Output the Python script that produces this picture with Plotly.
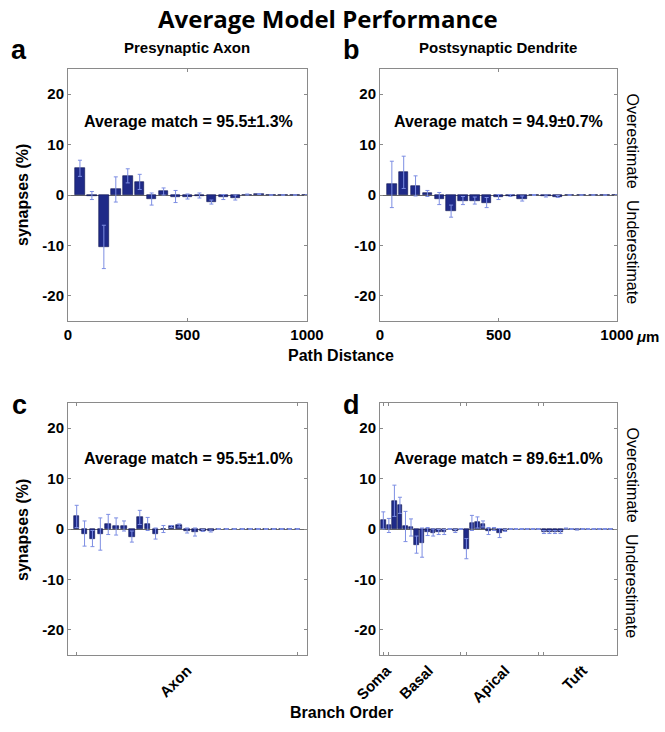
import plotly.graph_objects as go

# ---------------- data ----------------
path_bins = [50, 100, 150, 200, 250, 300, 350, 400, 450, 500,
             550, 600, 650, 700, 750, 800, 850, 900, 950, 1000]
axon_path = [5.3, -0.1, -10.3, 1.1, 3.8, 2.6, -0.8, 0.7, -0.3, -0.3,
             -0.1, -1.4, -0.4, -0.5, 0.1, 0.2, 0.0, 0.0, 0.0, 0.0]
axon_path_err = [1.6, 0.8, 4.3, 2.5, 1.4, 1.5, 1.2, 0.7, 1.2, 0.5,
                 0.5, 0.4, 0.5, 0.5, 0.1, 0.1, 0.05, 0.05, 0.05, 0.05]
dend_path = [2.1, 4.5, 1.8, 0.3, -0.7, -3.2, -1.1, -1.1, -1.5, -0.4,
             -0.1, -0.7, 0.0, -0.2, -0.3, 0.0, 0.0, 0.0, 0.0, 0.0]
dend_path_err = [4.6, 3.2, 2.0, 0.6, 1.2, 1.2, 0.8, 0.7, 1.0, 0.5,
                 0.2, 0.5, 0.1, 0.2, 0.2, 0.05, 0.05, 0.05, 0.05, 0.05]

axon_order_idx = list(range(1, 30))
axon_order = [2.5, -0.9, -1.9, -1.0, 0.9, 0.5, 0.6, -1.5, 2.3, 1.0,
              -0.9, 0.0, 0.5, 0.7, -0.3, -0.6, -0.3, -0.4, 0.0, 0.0,
              0.0, 0.0, 0.0, 0.0, 0.0, 0.0, 0.0, 0.0, 0.0]
axon_order_err = [2.2, 2.5, 1.6, 3.2, 2.0, 1.7, 1.0, 1.1, 1.4, 1.3,
                  1.1, 0.7, 0.2, 0.3, 0.5, 0.8, 0.2, 0.2, 0.1, 0.1,
                  0.1, 0.1, 0.1, 0.1, 0.1, 0.1, 0.1, 0.1, 0.1]

dend_order_idx = list(range(1, 43))
dend_order = [1.7, 0.7, 5.6, 4.7, 0.5, 0.3, -3.1, -2.7, -0.5, -0.7,
              -0.6, -0.6, 0.0, -0.4, 0.0, -3.9, 1.2, 1.3, 1.0, -0.4,
              0.0, -0.8, -0.3, 0.0, 0.0, 0.0, 0.0, 0.0, 0.0, -0.6,
              -0.6, -0.6, -0.6, 0.1, 0.0, -0.1, 0.0, 0.0, 0.0, 0.0,
              0.0, 0.0]
dend_order_err = [1.7, 1.4, 3.1, 1.6, 3.0, 1.7, 1.7, 2.9, 0.8, 0.7,
                  0.5, 0.5, 0.1, 0.3, 0.1, 2.0, 1.5, 1.1, 0.6, 0.7,
                  0.3, 0.9, 0.2, 0.1, 0.1, 0.1, 0.1, 0.1, 0.1, 0.3,
                  0.3, 0.3, 0.3, 0.1, 0.1, 0.1, 0.1, 0.1, 0.1, 0.1,
                  0.1, 0.1]

matches = ["Average match = 95.5±1.3%", "Average match = 94.9±0.7%",
           "Average match = 95.5±1.0%", "Average match = 89.6±1.0%"]
panel_titles = ["Presynaptic Axon", "Postsynaptic Dendrite"]
panel_letters = ["a", "b", "c", "d"]
path_ticks = [0, 500, 1000]
path_tick_text = ["0", "500", "1000"]
y_ticks = [-20, -10, 0, 10, 20]
y_tick_text = ["-20", "-10", "0", "10", "20"]
axon_labels = ["Axon"]
axon_label_pos = [15]
axon_tick_marks = [1, 29]
dend_labels = ["Soma", "Basal", "Apical", "Tuft"]
dend_label_pos = [1.6, 9.2, 23.0, 37.0]
dend_tick_marks = [1, 2, 15, 16, 29, 30]

# ---------------- styling ----------------
W, H = 665, 732
BAR = "#1f2a88"
BAR_LINE = "#0d1450"
ERR = "#7d8ee3"
FRAME = "#8a8a8a"
FONT = "Liberation Sans, Arial, sans-serif"
TICKFONT = dict(family=FONT, size=15, color="black", weight="bold")


def px_x(p):
    return p / W


def px_y(p):
    return 1 - p / H


fig = go.Figure()

panels = [
    (path_bins, axon_path, axon_path_err, 40, "x", "y"),
    (path_bins, dend_path, dend_path_err, 40, "x2", "y2"),
    (axon_order_idx, axon_order, axon_order_err, 0.7, "x3", "y3"),
    (dend_order_idx, dend_order, dend_order_err, 0.8, "x4", "y4"),
]
for xs, ys, es, w, xa, ya in panels:
    fig.add_trace(go.Bar(
        x=xs, y=ys, width=w, xaxis=xa, yaxis=ya,
        marker=dict(color=BAR, line=dict(color=BAR_LINE, width=0.6)),
        error_y=dict(type="data", array=es, color=ERR, thickness=1, width=2),
        showlegend=False,
    ))

xdom = [(68, 307), (380, 617)]
ydom = [(69, 321), (403, 655)]

common_y = dict(range=[-25, 25], tickvals=y_ticks, ticktext=y_tick_text,
                ticks="inside", ticklen=3, automargin=False,
                tickcolor=FRAME, showline=True, linecolor=FRAME, linewidth=1,
                mirror="ticks", showgrid=False, zeroline=True,
                zerolinecolor="#6a6a6a", zerolinewidth=1,
                tickfont=TICKFONT)
common_x = dict(showline=True, linecolor=FRAME, linewidth=1, mirror="ticks",
                showgrid=False, zeroline=False, ticks="inside", ticklen=3,
                tickcolor=FRAME, automargin=False, tickfont=TICKFONT)

layout = dict(
    width=W, height=H, margin=dict(l=0, r=0, t=0, b=0, pad=0, autoexpand=False),
    paper_bgcolor="white", plot_bgcolor="white", bargap=0,
    font=dict(family=FONT, color="black"),
)
for i in range(4):
    r, c = divmod(i, 2)
    sx = "" if i == 0 else str(i + 1)
    xd = [px_x(xdom[c][0]), px_x(xdom[c][1])]
    yd = [px_y(ydom[r][1]), px_y(ydom[r][0])]
    xa = dict(common_x, domain=xd, anchor="y" + sx)
    if r == 0:
        xa.update(range=[0, 1000], tickvals=path_ticks,
                  ticktext=path_tick_text)
    elif c == 0:
        xa.update(range=[-0.1, 30.2], tickvals=axon_label_pos,
                  ticktext=axon_labels, tickangle=-45, ticklen=0,
                  minor=dict(tickmode="array", tickvals=axon_tick_marks,
                             ticks="inside", ticklen=3, tickcolor=FRAME))
    else:
        xa.update(range=[0.4, 43.2], tickvals=dend_label_pos,
                  ticktext=dend_labels, tickangle=-45, ticklen=0,
                  minor=dict(tickmode="array", tickvals=dend_tick_marks,
                             ticks="inside", ticklen=3, tickcolor=FRAME))
    layout["xaxis" + sx] = xa
    layout["yaxis" + sx] = dict(common_y, domain=yd, anchor="x" + sx)

fig.update_layout(**layout)

ann = []


def add(text, x, y, size, family=FONT, **kw):
    d = dict(text=text, x=px_x(x), y=px_y(y), xref="paper", yref="paper",
             showarrow=False, xanchor="center", yanchor="middle",
             font=dict(family=family, size=size, color="black"))
    d.update(kw)
    ann.append(d)


# Title
add("<b>Average Model Performance</b>", 328, 18, 24, family="Open Sans, sans-serif")
# panel letters
letter_pos = [(19, 50), (352, 50), (19, 405), (352, 405)]
for L, (lx, ly) in zip(panel_letters, letter_pos):
    add("<b>%s</b>" % L, lx, ly, 27)
# subtitles
for t, cx in zip(panel_titles, [187, 498]):
    add("<b>%s</b>" % t, cx, 48, 15)
# match text
match_pos = [(188, 122), (498, 122), (188, 458), (498, 458)]
for t, (mx, my) in zip(matches, match_pos):
    add("<b>%s</b>" % t, mx, my, 16)
# y-axis titles
for cy in [195, 530]:
    add("<b>synapses (%)</b>", 22, cy, 16, textangle=-90)
# over/under
for zy in [194, 528]:
    add("Overestimate", 632, zy - 4, 16, textangle=90, yanchor="bottom")
    add("Underestimate", 632, zy + 4, 16, textangle=90, yanchor="top")
# x-axis titles
add("<b>Path Distance</b>", 341, 355, 16)
add("<b>Branch Order</b>", 341, 712, 16)
# micrometre unit
add("<b><i>μ</i>m</b>", 634, 336, 15, xanchor="left")

fig.update_layout(annotations=ann)
fig.write_html("out.html", config={"displayModeBar": False},
               post_script="document.body.style.margin='0px';")
